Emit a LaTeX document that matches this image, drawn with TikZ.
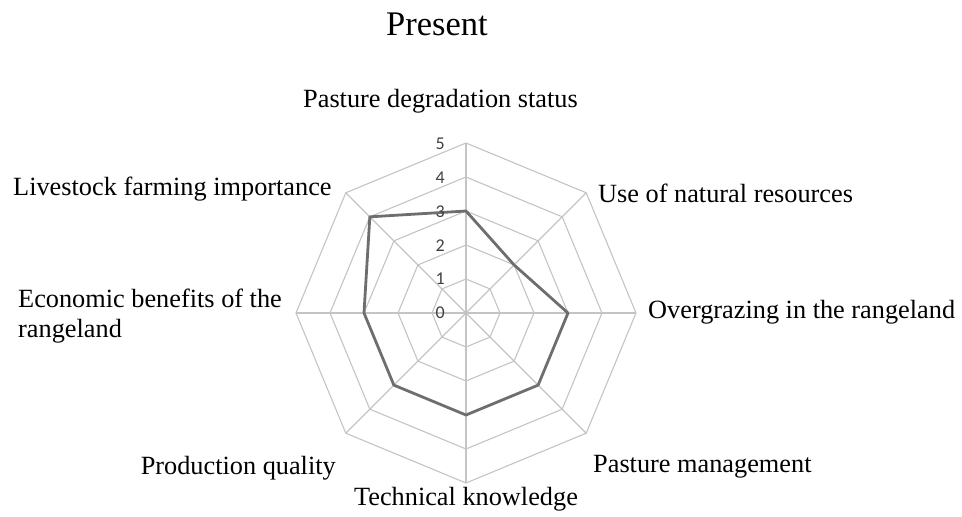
\documentclass[tikz,border=0pt]{standalone}
\usepackage{fontspec}
\setmainfont{Liberation Serif}
\newfontfamily\tickfont{Carlito}
\usepackage{xcolor}
\usetikzlibrary{positioning}
\definecolor{gridgray}{RGB}{196,196,196}
\definecolor{datagray}{RGB}{110,110,112}
\definecolor{ticktext}{RGB}{64,64,64}

\begin{document}
\begin{tikzpicture}[x=1pt,y=1pt,yscale=-1,xscale=1,
  gridline/.style={draw=gridgray, line width=1.1pt},
  dataline/.style={draw=datagray, line width=2.8pt, line join=round},
  axislabel/.style={font=\fontsize{26.3}{30}\selectfont, inner sep=0pt, anchor=base west},
  ticklabel/.style={font=\tickfont\fontsize{18}{20}\selectfont, text=ticktext, inner sep=0pt, anchor=east}]
\useasboundingbox (0,0) rectangle (962,517);

%Title
\node [font=\fontsize{34.5}{40}\selectfont, inner sep=0pt, anchor=base west] (title) at (386,35) {Present};

%Chart: rings, spokes and data (normal y direction inside)
\begin{scope}[shift={(466,313)}, yscale=-1]
  \coordinate (centre) at (0,0);
  %rings
  \foreach \r in {1,...,5}{
    \draw[gridline] (0:\r*34) \foreach \a in {45,90,...,315}{ -- (\a:\r*34)} -- cycle;
  }
  %spokes
  \foreach \a in {0,45,...,315}{
    \draw[gridline] (centre) -- (\a:170);
  }
  %data points
  \coordinate (degr) at (90:3*34);
  \coordinate (natres) at (45:2*34);
  \coordinate (overgr) at (0:3*34);
  \coordinate (mgmt) at (-45:3*34);
  \coordinate (tech) at (-90:3*34);
  \coordinate (prodq) at (-135:3*34);
  \coordinate (econ) at (180:3*34);
  \coordinate (lvstk) at (135:4*34);
  \draw[dataline] (degr) -- (natres) -- (overgr) -- (mgmt) -- (tech) -- (prodq) -- (econ) -- (lvstk) -- cycle;
\end{scope}

%Tick labels
\foreach \k in {0,...,5}{
  \node[ticklabel] (tick\k) at (445,313-33.8*\k) {\k};
}

% Text Node
\node[axislabel] (lbldegr) at (303,107) {Pasture degradation status};
% Text Node
\node[axislabel] (lblnatres) at (598,202) {Use of natural resources};
% Text Node
\node[axislabel] (lblovergr) at (648,318) {Overgrazing in the rangeland};
% Text Node
\node[axislabel] (lblmgmt) at (593,472) {Pasture management};
% Text Node
\node[axislabel, anchor=base] (lbltech) at (466,505) {Technical knowledge};
% Text Node
\node[axislabel, anchor=base east] (lblprodq) at (336,474) {Production quality};
% Text Node
\node[axislabel, align=left] (lblecon) at (18,337) {Economic benefits of the\\rangeland};
% Text Node
\node[axislabel] (lbllvstk) at (13,195) {Livestock farming importance};

\end{tikzpicture}
\end{document}
